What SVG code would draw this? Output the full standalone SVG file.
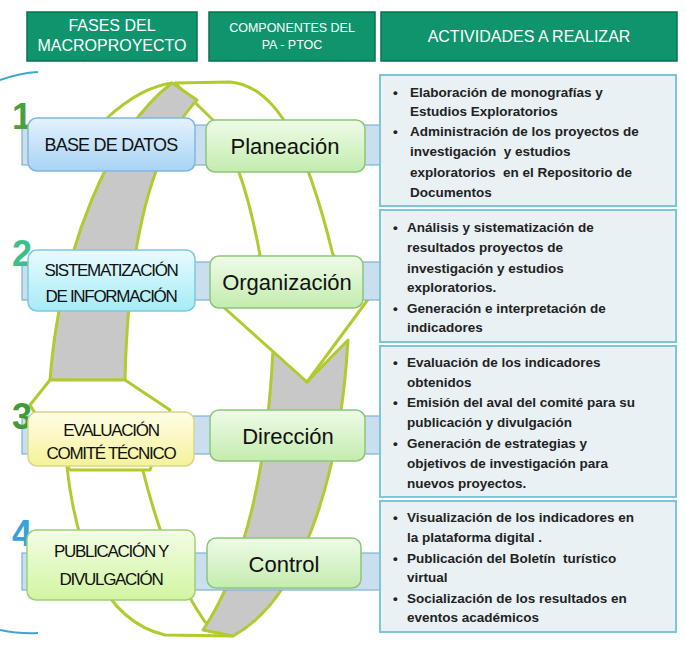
<svg xmlns="http://www.w3.org/2000/svg" width="686" height="649" viewBox="0 0 686 649">
<style>
.hd{fill:#0f946e;stroke:#0b6f52;stroke-width:1.5}
.ht{fill:#fff;font-family:"Liberation Sans",Arial,sans-serif;text-anchor:middle}
.bar{fill:#c9dff0;stroke:#7fb3d5;stroke-width:1.2}
.mid{fill:url(#gG);stroke:#8cc67a;stroke-width:1.5}
.mt{font-family:"Liberation Sans",Arial,sans-serif;font-size:22px;text-anchor:middle;fill:#111}
.lt{font-family:"Liberation Sans",Arial,sans-serif;font-size:17px;text-anchor:middle;fill:#111;letter-spacing:-1.3px}
.act{fill:#e9f1f5;stroke:#7cc6d8;stroke-width:2}
.at{font-family:"Liberation Sans",Arial,sans-serif;font-size:13.5px;font-weight:bold;fill:#222}
.rib{stroke:#b3c930;stroke-width:3;stroke-linejoin:round}
.num{font-family:"Liberation Sans",Arial,sans-serif;font-size:36px;font-weight:bold}
</style>
<defs>
<linearGradient id="gG" x1="0" y1="0" x2="0" y2="1"><stop offset="0" stop-color="#effbe8"/><stop offset="1" stop-color="#c3ecae"/></linearGradient>
<linearGradient id="g1" x1="0" y1="0" x2="0" y2="1"><stop offset="0" stop-color="#e4f2fd"/><stop offset="1" stop-color="#a8d3f5"/></linearGradient>
<linearGradient id="g2" x1="0" y1="0" x2="0" y2="1"><stop offset="0" stop-color="#e8fbfe"/><stop offset="1" stop-color="#a6ebf7"/></linearGradient>
<linearGradient id="g3" x1="0" y1="0" x2="0" y2="1"><stop offset="0" stop-color="#fffde6"/><stop offset="1" stop-color="#f5f29a"/></linearGradient>
<linearGradient id="g4" x1="0" y1="0" x2="0" y2="1"><stop offset="0" stop-color="#f3fde6"/><stop offset="1" stop-color="#d2f5a0"/></linearGradient>
</defs>

<g id="headers">
<rect class="hd" x="27" y="12" width="170" height="49"/>
<text class="ht" x="112" y="31" font-size="16">FASES DEL</text>
<text class="ht" x="112" y="51" font-size="16">MACROPROYECTO</text>
<rect class="hd" x="209" y="12" width="166" height="49"/>
<text class="ht" x="292" y="32" font-size="12.5">COMPONENTES DEL</text>
<text class="ht" x="292" y="49" font-size="12.5">PA - PTOC</text>
<rect class="hd" x="381" y="12" width="296" height="49"/>
<text class="ht" x="529" y="42" font-size="16">ACTIVIDADES A REALIZAR</text>
</g>

<g id="cycle" fill="none">
<path d="M0 80 Q20 73 38 72" stroke="#3aa9c8" stroke-width="2"/>
<path d="M0 630 Q20 634 38 633" stroke="#3aa9c8" stroke-width="2"/>
<path class="rib" fill="#fff" d="M67 467 C75 540 100 620 165 635 L233 636 L205 622 C190 600 165 560 142 467 Z"/>
<path class="rib" fill="#c8c8c8" d="M273 350 C268 450 250 560 203 630 L233 636 C300 600 340 480 348 340 L307 382 Z"/>
<path class="rib" fill="#fff" d="M175 83 L230 82 C275 86 305 140 333 255 L375 290 L307 382 L210 295 L260 255 C250 200 235 150 213 120 Z"/>
<path class="rib" fill="#c8c8c8" d="M172 83 C110 130 60 250 50 380 L125 380 C128 250 150 150 197 100 Z"/>
<path class="rib" fill="#fff" d="M50 380 L30 405 L70 470 L150 470 L170 410 L125 380 Z"/>
<path class="rib" d="M107 118 C130 97 150 86 172 83"/>
</g>

<g id="bars">
<rect class="bar" x="22" y="125" width="360" height="40"/>
<rect class="bar" x="22" y="262" width="360" height="38"/>
<rect class="bar" x="22" y="416" width="360" height="38"/>
<rect class="bar" x="22" y="553" width="360" height="37"/>
</g>

<g id="row1">
<text class="num" x="12" y="129" fill="#4aa03c">1</text>
<rect x="28" y="118" width="167" height="53" rx="9" fill="url(#g1)" stroke="#7fb8df" stroke-width="1.5"/>
<text class="lt" x="111" y="151" style="font-size:18px;letter-spacing:-0.8px">BASE DE DATOS</text>
<rect class="mid" x="206" y="120" width="159" height="52" rx="9"/>
<text class="mt" x="285" y="154">Planeación</text>
</g>
<g id="row2">
<text class="num" x="12" y="266" fill="#3cbf8a">2</text>
<rect x="28" y="250" width="167" height="61" rx="9" fill="url(#g2)" stroke="#7fc8dc" stroke-width="1.5"/>
<text class="lt" x="111" y="276">SISTEMATIZACIÓN</text>
<text class="lt" x="111" y="302">DE INFORMACIÓN</text>
<rect class="mid" x="210" y="256" width="153" height="52" rx="9"/>
<text class="mt" x="287" y="290">Organización</text>
</g>
<g id="row3">
<text class="num" x="12" y="429" fill="#3f9a3a">3</text>
<rect x="28" y="412" width="166" height="54" rx="9" fill="url(#g3)" stroke="#d8d68a" stroke-width="1.5"/>
<text class="lt" x="111" y="436">EVALUACIÓN</text>
<text class="lt" x="111" y="459">COMITÉ TÉCNICO</text>
<rect class="mid" x="210" y="410" width="155" height="51" rx="9"/>
<text class="mt" x="288" y="444">Dirección</text>
</g>
<g id="row4">
<text class="num" x="12" y="546" fill="#3aa0d8">4</text>
<rect x="27" y="530" width="168" height="70" rx="9" fill="url(#g4)" stroke="#9dcf7a" stroke-width="1.5"/>
<text class="lt" x="111" y="557">PUBLICACIÓN Y</text>
<text class="lt" x="111" y="585">DIVULGACIÓN</text>
<rect class="mid" x="207" y="538" width="154" height="50" rx="9"/>
<text class="mt" x="284" y="572">Control</text>
</g>

<g id="act1">
<rect class="act" x="380" y="75" width="296" height="131"/>
<text class="at" x="393" y="97">•</text><text class="at" x="410" y="97">Elaboración de monografías y</text>
<text class="at" x="410" y="116">Estudios Exploratorios</text>
<text class="at" x="393" y="136">•</text><text class="at" x="410" y="136">Administración de los proyectos de</text>
<text class="at" x="410" y="156" xml:space="preserve">investigación  y estudios</text>
<text class="at" x="410" y="177" xml:space="preserve">exploratorios  en el Repositorio de</text>
<text class="at" x="410" y="197">Documentos</text>
</g>
<g id="act2">
<rect class="act" x="380" y="210" width="296" height="132"/>
<text class="at" x="393" y="232">•</text><text class="at" x="407" y="232">Análisis y sistematización de</text>
<text class="at" x="407" y="252">resultados proyectos de</text>
<text class="at" x="407" y="273">investigación y estudios</text>
<text class="at" x="407" y="292">exploratorios.</text>
<text class="at" x="393" y="313">•</text><text class="at" x="407" y="313">Generación e interpretación de</text>
<text class="at" x="407" y="332">indicadores</text>
</g>
<g id="act3">
<rect class="act" x="380" y="346" width="296" height="151"/>
<text class="at" x="393" y="367">•</text><text class="at" x="407" y="367">Evaluación de los indicadores</text>
<text class="at" x="407" y="387">obtenidos</text>
<text class="at" x="393" y="407">•</text><text class="at" x="407" y="407">Emisión del aval del comité para su</text>
<text class="at" x="407" y="427">publicación y divulgación</text>
<text class="at" x="393" y="448">•</text><text class="at" x="407" y="448">Generación de estrategias y</text>
<text class="at" x="407" y="468">objetivos de investigación para</text>
<text class="at" x="407" y="488">nuevos proyectos.</text>
</g>
<g id="act4">
<rect class="act" x="380" y="501" width="296" height="131"/>
<text class="at" x="393" y="522">•</text><text class="at" x="407" y="522">Visualización de los indicadores en</text>
<text class="at" x="407" y="542">la plataforma digital .</text>
<text class="at" x="393" y="563">•</text><text class="at" x="407" y="563" xml:space="preserve">Publicación del Boletín  turístico</text>
<text class="at" x="407" y="582">virtual</text>
<text class="at" x="393" y="603">•</text><text class="at" x="407" y="603">Socialización de los resultados en</text>
<text class="at" x="407" y="622">eventos académicos</text>
</g>
</svg>
